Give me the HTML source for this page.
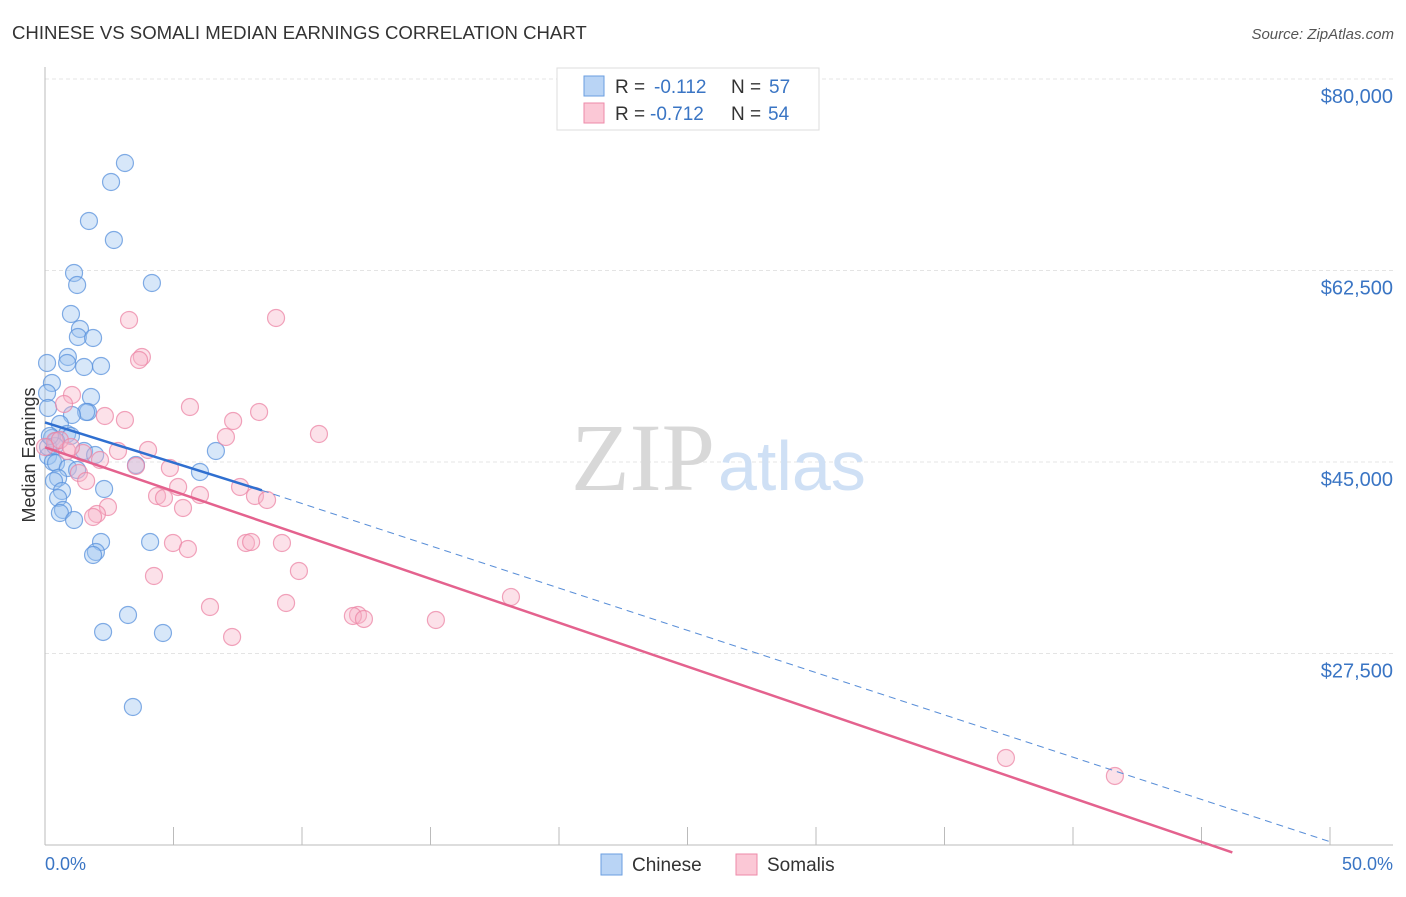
<!DOCTYPE html>
<html><head><meta charset="utf-8"><style>
body{margin:0;background:#fff;font-family:"Liberation Sans",sans-serif;}
</style></head><body>
<svg id="chart" width="1406" height="892" xmlns="http://www.w3.org/2000/svg">
<text x="12" y="39" font-size="18.6" fill="#333">CHINESE VS SOMALI MEDIAN EARNINGS CORRELATION CHART</text>
<text x="1394" y="39" font-size="15" font-style="italic" fill="#555" text-anchor="end">Source: ZipAtlas.com</text>
<g id="grid"></g>
<text x="715" y="490" font-size="96" font-family="Liberation Serif,serif" fill="#d8d8d8" text-anchor="end">ZIP</text>
<text x="718" y="490" font-size="70" fill="#cfe0f5">atlas</text>
<g id="marks"></g>
<text x="35" y="455" font-size="18" fill="#333" transform="rotate(-90 35 455)" text-anchor="middle">Median Earnings</text>
<text x="45" y="870" font-size="18" fill="#3a75c4">0.0%</text>
<text x="1393" y="870" font-size="18" fill="#3a75c4" text-anchor="end">50.0%</text>
<g>
<rect x="557" y="68" width="262" height="62" fill="#fff" stroke="#ddd"/>
<rect x="584" y="76" width="20" height="20" fill="#b9d4f5" stroke="#6a9ee0"/>
<text x="615" y="93" font-size="19" fill="#333">R =</text>
<text x="654" y="93" font-size="19" fill="#3a75c4">-0.112</text>
<text x="731" y="93" font-size="19" fill="#333">N =</text>
<text x="769" y="93" font-size="19" fill="#3a75c4">57</text>
<rect x="584" y="103" width="20" height="20" fill="#fbc8d6" stroke="#ee8aa8"/>
<text x="615" y="120" font-size="19" fill="#333">R =</text>
<text x="650" y="120" font-size="19" fill="#3a75c4">-0.712</text>
<text x="731" y="120" font-size="19" fill="#333">N =</text>
<text x="768" y="120" font-size="19" fill="#3a75c4">54</text>
</g>
<g>
<rect x="601" y="854" width="21" height="21" fill="#b9d4f5" stroke="#6a9ee0"/>
<text x="632" y="871" font-size="19" fill="#333">Chinese</text>
<rect x="736" y="854" width="21" height="21" fill="#fbc8d6" stroke="#ee8aa8"/>
<text x="767" y="871" font-size="19" fill="#333">Somalis</text>
</g>
</svg>
<script>
const yTicks=[80000,62500,45000,27500];
const yTickLabels=["$80,000","$62,500","$45,000","$27,500"];
const xTicks=[0,5,10,15,20,25,30,35,40,45,50];
const chinesePx=[[125,163],[111,182],[89,221],[114,240],[74,273],[152,283],[77,285],[71,314],[80,329],[78,337],[93,338],[68,357],[47,363],[67,363],[84,367],[101,366],[52,383],[47,393],[91,397],[88,412],[86,412],[48,408],[72,415],[60,424],[67,434],[71,436],[52,438],[56,441],[84,451],[95,455],[216,451],[48,456],[53,462],[56,463],[136,465],[68,468],[77,470],[200,472],[58,478],[54,481],[104,489],[62,491],[58,498],[63,510],[60,513],[74,520],[101,542],[150,542],[96,552],[93,555],[128,615],[103,632],[163,633],[133,707],[48,447],[55,446],[50,436]];
const somaliPx=[[129,320],[276,318],[142,357],[139,360],[72,395],[64,404],[190,407],[259,412],[105,416],[125,420],[233,421],[226,437],[319,434],[55,441],[118,451],[148,450],[67,451],[83,453],[100,460],[136,466],[170,468],[79,473],[86,481],[178,487],[240,487],[200,495],[157,496],[164,498],[255,496],[267,500],[183,508],[108,507],[97,514],[93,517],[173,543],[188,549],[246,543],[251,542],[282,543],[299,571],[154,576],[286,603],[210,607],[358,615],[353,616],[364,619],[436,620],[232,637],[511,597],[1006,758],[1115,776],[60,440],[71,447],[45,447]];
const chineseX=chinesePx.map(p=>+((p[0]-45)/25.7).toFixed(2));
const chineseY=chinesePx.map(p=>Math.round(80000-(p[1]-79)*91.38));
const somaliX=somaliPx.map(p=>+((p[0]-45)/25.7).toFixed(2));
const somaliY=somaliPx.map(p=>Math.round(80000-(p[1]-79)*91.38));
const chineseTrend=[[0,48620],[8.44,42410],[50,10300]];
const somaliTrend=[[0,46340],[46.2,9320]];
const X=v=>45+v*25.7, Y=v=>79+(80000-v)*191.5/17500;
const NS="http://www.w3.org/2000/svg";
const svg=document.getElementById('chart'),grid=document.getElementById('grid'),marks=document.getElementById('marks');
function mk(t,a,p){const e=document.createElementNS(NS,t);for(const k in a)e.setAttribute(k,a[k]);p.appendChild(e);return e;}
yTicks.forEach((v,i)=>{
 const l=mk('line',{x1:45,x2:1393,y1:Y(v),y2:Y(v),stroke:'#e4e4e4','stroke-dasharray':'4 3'},grid);
 
 
 const t=mk('text',{x:1393,y:Y(v)+24,'font-size':20,fill:'#3a75c4','text-anchor':'end'},grid);
 t.textContent=yTickLabels[i];
 
 
});
const ax=mk('line',{x1:45,x2:1393,y1:845,y2:845,stroke:'#bbb'},grid);


const ay=mk('line',{x1:45,x2:45,y1:67,y2:845,stroke:'#bbb'},grid);


xTicks.forEach(v=>{const t=mk('line',{x1:X(v),x2:X(v),y1:827,y2:845,stroke:'#bbb'},grid);
 
 });
function pts(xs,ys,fill,stroke,name){xs.forEach((x,i)=>{const c=mk('circle',{cx:X(x),cy:Y(ys[i]),r:8.5,fill:fill,'fill-opacity':0.4,stroke:stroke,'stroke-opacity':0.75,'stroke-width':1.2},marks);
 
 });}
pts(chineseX,chineseY,'#9cc2f0','#5a92dc','chinese-point');
pts(somaliX,somaliY,'#f7b3c8','#ec86a6','somali-point');
let l1=mk('line',{x1:X(chineseTrend[0][0]),y1:Y(chineseTrend[0][1]),x2:X(chineseTrend[1][0]),y2:Y(chineseTrend[1][1]),stroke:'#2f6fd0','stroke-width':2.5},marks);


let l2=mk('line',{x1:X(chineseTrend[1][0]),y1:Y(chineseTrend[1][1]),x2:X(chineseTrend[2][0]),y2:Y(chineseTrend[2][1]),stroke:'#5a8fd8','stroke-width':1,'stroke-dasharray':'7 5'},marks);


let l3=mk('line',{x1:X(somaliTrend[0][0]),y1:Y(somaliTrend[0][1]),x2:X(somaliTrend[1][0]),y2:Y(somaliTrend[1][1]),stroke:'#e4628e','stroke-width':2.5},marks);


</script>
</body></html>
